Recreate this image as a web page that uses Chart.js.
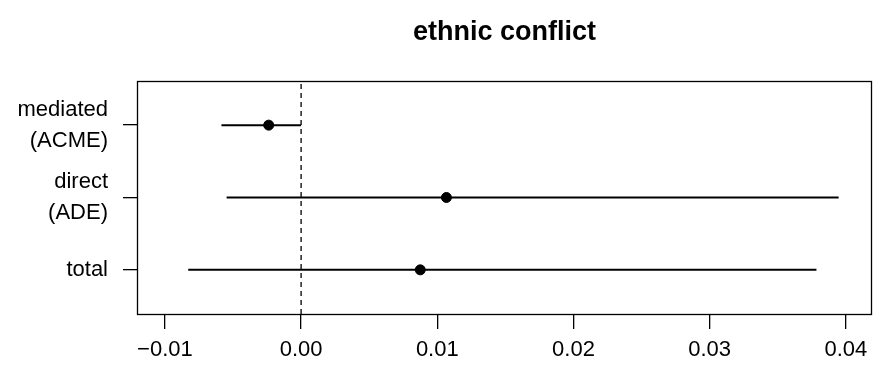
<!DOCTYPE html>
<html lang="en">
<head>
  <meta charset="UTF-8" />
  <title>ethnic conflict</title>
  <script src="https://cdn.jsdelivr.net/npm/chart.js"></script>
  <style>
    html, body { margin: 0; padding: 0; background: #fff; }
    #wrap { width: 878px; height: 371px; position: relative; }
  </style>
</head>
<body>
<div id="wrap"><canvas id="effectChart"></canvas></div>

<script>
  // effects, top to bottom
  const effectLabels = [['mediated', '(ACME)'], ['direct', '(ADE)'], 'total'];
  const effectPos = [3, 2, 1];
  const estimates = [-0.00238, 0.01067, 0.00875];
  const ciLower = [-0.00585, -0.00547, -0.00829];
  const ciUpper = [0.00000, 0.03947, 0.03784];

  const xTicks = [-0.01, 0.00, 0.01, 0.02, 0.03, 0.04];
  const xTickLabels = ['\u22120.01', '0.00', '0.01', '0.02', '0.03', '0.04'];

  const xMin = -0.01205, xMax = 0.04192;
  const yMin = 0.39, yMax = 3.61;

  const font = { family: "'Liberation Sans', Arial, Helvetica, sans-serif", size: 22 };

  const ciSets = effectPos.map((p, i) => ({
    data: [{ x: ciLower[i], y: p }, { x: ciUpper[i], y: p }],
    showLine: true,
    borderColor: '#000',
    borderWidth: 2,
    pointRadius: 0
  }));

  const zeroLine = {
    data: [{ x: 0, y: yMin }, { x: 0, y: yMax }],
    showLine: true,
    borderColor: '#000',
    borderWidth: 1.3,
    borderDash: [5, 4],
    pointRadius: 0
  };

  const pointSet = {
    data: effectPos.map((p, i) => ({ x: estimates[i], y: p })),
    backgroundColor: '#000',
    borderColor: '#000',
    pointRadius: 5,
    pointHoverRadius: 5
  };

  // box round the plot region + title (R style)
  const boxPlugin = {
    id: 'box',
    afterDraw(chart) {
      const { ctx, chartArea: a } = chart;
      ctx.save();
      ctx.strokeStyle = '#000';
      ctx.lineWidth = 1.3;
      ctx.strokeRect(a.left + 0.5, a.top + 0.5, a.right - a.left - 1, a.bottom - a.top);
      ctx.fillStyle = '#000';
      ctx.font = "bold 27px 'Liberation Sans', Arial, Helvetica, sans-serif";
      ctx.textAlign = 'center';
      ctx.textBaseline = 'alphabetic';
      ctx.fillText('ethnic conflict', (a.left + a.right) / 2, 40);
      ctx.restore();
    }
  };

  new Chart(document.getElementById('effectChart'), {
    type: 'scatter',
    data: { datasets: [zeroLine, ...ciSets, pointSet] },
    plugins: [boxPlugin],
    options: {
      responsive: true,
      maintainAspectRatio: false,
      animation: false,
      layout: { padding: { top: 81, left: 0, right: 0, bottom: 0 } },
      plugins: { legend: { display: false }, tooltip: { enabled: false } },
      scales: {
        x: {
          type: 'linear',
          min: xMin,
          max: xMax,
          afterBuildTicks: s => { s.ticks = xTicks.map(v => ({ value: v })); },
          afterFit: s => { s.height = 57; },
          border: { display: false },
          grid: { drawOnChartArea: false, drawTicks: true, tickLength: 15, color: '#000', lineWidth: 1.3 },
          ticks: {
            color: '#000',
            font: font,
            padding: 8,
            maxRotation: 0,
            callback: (v, i) => xTickLabels[i]
          }
        },
        y: {
          type: 'linear',
          min: yMin,
          max: yMax,
          afterBuildTicks: s => { s.ticks = effectPos.map(v => ({ value: v })); },
          afterFit: s => { s.width = 137; },
          border: { display: false },
          grid: { drawOnChartArea: false, drawTicks: true, tickLength: 14, color: '#000', lineWidth: 1.3 },
          ticks: {
            color: '#000',
            font: Object.assign({ lineHeight: 1.4 }, font),
            padding: 15,
            callback: (v, i) => effectLabels[effectPos.indexOf(v)]
          }
        }
      }
    }
  });
</script>
</body>
</html>
